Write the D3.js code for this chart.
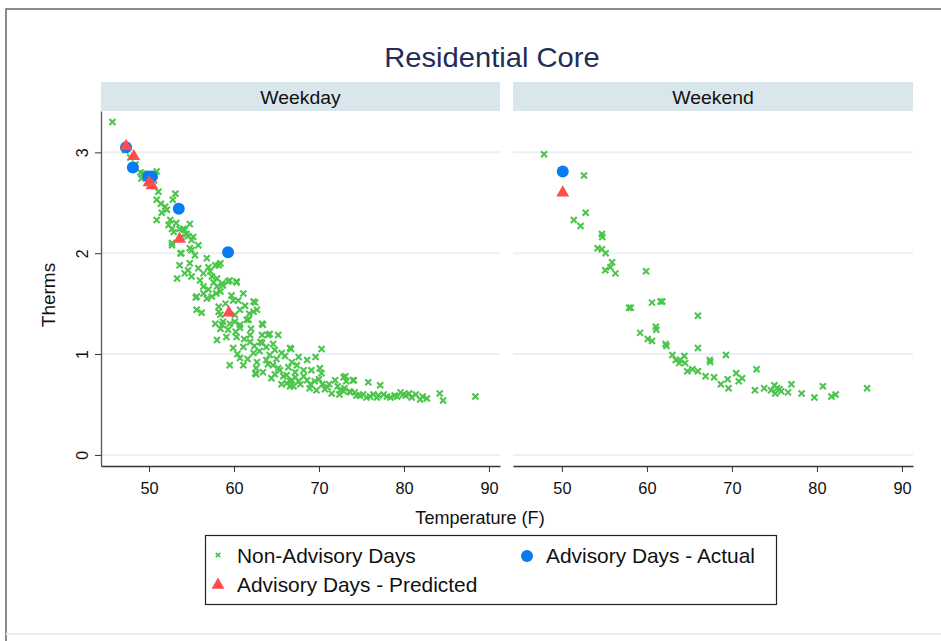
<!DOCTYPE html>
<html><head><meta charset="utf-8">
<script src="https://cdn.jsdelivr.net/npm/d3@7/dist/d3.min.js"></script>
<style>body{margin:0;background:#fff}svg{display:block}text{font-family:"Liberation Sans",Arial,sans-serif}</style>
</head><body><svg id="c" width="941" height="641"></svg>
<script>
// ---- data ----
const panels = ["Weekday", "Weekend"];
const xTicks = [50, 60, 70, 80, 90];
const yTicks = [0, 1, 2, 3];
const legendLabels = ["Non-Advisory Days", "Advisory Days - Actual", "Advisory Days - Predicted"];

// [temperature, therms]
const weekdayNonAdvisory = [
[45.7,3.30],[47.2,3.02],[47.8,2.95],[48.4,2.88],[49.0,2.80],[49.3,2.79],[49.1,2.74],[49.6,2.77],[50.3,2.78],[50.9,2.81],[50.6,2.72],[50.1,2.70],
[51.1,2.61],[53.1,2.59],[52.8,2.53],[50.9,2.53],[51.4,2.49],[51.9,2.46],[52.1,2.43],[50.9,2.33],[52.5,2.33],[52.3,2.28],[52.7,2.24],[53.6,2.24],
[54.8,2.29],[54.2,2.23],[52.9,2.21],[54.6,2.17],[55.0,2.13],[53.8,2.16],[55.8,2.08],[52.7,2.08],[54.8,2.05],[53.7,2.00],[55.4,1.98],[56.8,1.95],
[54.0,2.24],[54.4,2.19],[55.2,2.16],[52.7,2.10],[53.8,2.00],[55.0,2.03],[53.6,1.88],[54.8,1.90],[54.6,1.83],[55.8,1.85],[57.0,1.86],[57.8,1.88],
[58.4,1.90],[54.2,1.80],[55.0,1.77],[53.3,1.75],[56.0,1.73],[57.4,1.77],[58.0,1.75],[57.6,1.71],[58.6,1.70],[59.5,1.73],[60.3,1.72],[56.4,1.67],
[57.0,1.64],[58.0,1.67],[58.4,1.62],[55.6,1.57],[57.4,1.57],[61.1,1.60],[59.9,1.53],[60.5,1.53],[62.3,1.52],[61.3,1.48],[55.6,1.44],[56.2,1.41],
[58.2,1.47],[58.4,1.39],[60.7,1.44],[60.1,1.39],[61.7,1.34],[57.8,1.30],[58.6,1.29],[59.5,1.30],[60.7,1.29],[62.7,1.44],
[58.2,1.88],[59.3,1.72],[60.3,1.71],[58.7,1.68],[56.4,1.60],[55.5,1.56],[62.5,1.51],[58.2,1.42],[62.3,1.42],[58.7,1.32],[60.1,1.32],[61.5,1.34],
[63.3,1.30],[58.4,1.25],[59.3,1.24],[60.7,1.26],[58.0,1.14],[59.1,1.17],[60.3,1.17],[61.9,1.19],[63.3,1.19],[64.2,1.20],[65.2,1.19],[61.9,1.12],
[63.1,1.12],[59.9,1.06],[61.1,1.07],[63.8,1.07],[64.8,1.04],[66.6,1.06],[59.5,0.89],[60.7,0.96],[61.1,0.89],[62.7,0.92],[63.8,0.94],[64.6,0.89],
[62.5,0.81],[63.4,0.82],[64.4,0.76],[65.4,0.84],[66.2,0.79],[66.6,0.73],[67.2,0.82],[67.6,0.97],[66.8,0.92],
[63.4,1.29],[64.0,1.19],[63.3,1.11],[66.7,1.05],[70.3,1.05],[62.3,1.01],[64.2,0.99],[65.6,1.01],[68.6,0.94],[69.6,0.97],[62.6,0.86],
[64.0,0.90],[65.2,0.86],[66.4,0.87],[67.4,0.89],[68.2,0.84],[69.1,0.84],[70.1,0.86],[70.3,0.81],[62.6,0.80],[64.8,0.80],[65.8,0.78],[66.8,0.74],
[67.6,0.73],[68.6,0.74],[69.5,0.73],[66.6,0.68],[68.9,0.66],[69.7,0.64],[70.7,0.65],[71.9,0.74],[72.9,0.77],[73.2,0.73],[74.0,0.74],[71.5,0.61],
[72.5,0.64],[73.6,0.63],[74.4,0.59],
[73.1,0.78],[74.1,0.74],[75.8,0.72],[77.2,0.69],[72.9,0.63],[73.7,0.62],[74.8,0.59],[76.0,0.58],[77.0,0.59],[78.0,0.58],[78.9,0.59],[79.9,0.60],
[80.9,0.57],[81.4,0.60],[81.9,0.55],[82.7,0.56],[84.2,0.61],[84.6,0.54],[88.4,0.58],
[75.2,0.60],[75.6,0.57],[76.4,0.60],[76.8,0.57],[77.6,0.60],[78.4,0.57],[79.2,0.58],[79.6,0.62],[80.2,0.59],[74.2,0.62],[73.0,0.66],[72.2,0.68],
[71.2,0.70],[70.4,0.70],[69.0,0.70],[67.8,0.70],[67.0,0.68],[66.2,0.71],[65.6,0.70],[68.2,0.78],[67.2,0.77],[70.0,0.75],[71.0,0.67],[72.4,0.60],
[82.2,0.58],[80.6,0.61],
[51.5,2.40],[53.2,2.30],[56.4,1.80],[57.2,1.82],[57.9,1.60],[56.8,1.55],[59.0,1.50],[59.7,1.58],[61.8,1.40],[62.0,1.25],[60.2,1.22],[61.2,1.15],
[62.4,1.08],[63.0,1.03],[60.4,1.00],[61.6,0.95],[65.0,0.95],[64.6,1.10],[66.0,0.98]
];
const weekdayActual = [[47.3,3.05],[48.1,2.85],[49.9,2.76],[50.35,2.76],[53.5,2.44],[59.3,2.01]];
const weekdayPredicted = [[47.3,3.06],[48.2,2.96],[50.0,2.70],[50.35,2.67],[53.6,2.14],[59.4,1.41]];

const weekendNonAdvisory = [
[47.9,2.98],[52.6,2.77],[51.4,2.33],[52.2,2.27],[52.8,2.40],[54.7,2.19],[54.75,2.16],[54.2,2.05],[54.7,2.04],[55.15,2.00],[55.1,1.83],[55.7,1.86],
[55.9,1.91],[56.3,1.80],[59.9,1.82],[57.9,1.46],[58.1,1.46],[60.6,1.51],[61.6,1.52],[61.8,1.52],[66.0,1.38],[59.2,1.21],[60.1,1.15],[60.6,1.13],
[61.05,1.27],[61.1,1.24],[62.2,1.10],[62.3,1.08],[66.0,1.06],[63.0,0.99],[63.4,0.94],[63.8,0.91],[63.9,0.94],[64.4,0.98],[64.5,0.91],[64.75,0.83],
[65.35,0.85],[66.0,0.83],[66.9,0.78],[67.4,0.94],[67.45,0.92],[67.9,0.77],[68.7,0.70],[69.3,0.99],[69.5,0.75],[69.6,0.66],[70.5,0.81],[70.8,0.73],
[71.2,0.76],[72.9,0.85],[72.7,0.64],[73.8,0.66],[75.0,0.69],[75.1,0.61],[75.6,0.65],[75.8,0.63],[76.6,0.62],[77.0,0.70],[78.2,0.61],[79.7,0.57],
[80.7,0.68],[81.7,0.58],[82.2,0.60],[85.9,0.66],[74.6,0.64],[75.3,0.66]
];
const weekendActual = [[50.1,2.81]];
const weekendPredicted = [[50.1,2.60]];

// ---- style ----
const GREEN = "#4cc54c", BLUE = "#0a7cf2", RED = "#ff4d4d";

const svg = d3.select("#c");
svg.append("rect").attr("width", 941).attr("height", 641).attr("fill", "#fff");

function txt(x, y, s, size, opt = {}) {
  const sx = opt.sx || 1;
  return svg.append("text")
    .attr("transform", `translate(${x},${y})` + (opt.rot ? ` rotate(${opt.rot})` : "") + ` scale(${sx},1)`)
    .attr("font-size", size).attr("fill", opt.fill || "#111")
    .attr("text-anchor", opt.anchor || "middle").text(s);
}

// outer frame
svg.append("path").attr("d", "M6,641V9H941").attr("fill", "none").attr("stroke", "#666").attr("stroke-width", 1.5);
svg.append("line").attr("x1", 6).attr("x2", 941).attr("y1", 634).attr("y2", 634).attr("stroke", "#e3eeee").attr("stroke-width", 2);

// title
txt(492, 67, "Residential Core", 27.5, { fill: "#1f2d5a", sx: 1.06 });

const y = d3.scaleLinear().domain([-0.11, 3.41]).range([466, 111]);
const xs = [
  d3.scaleLinear().domain([44.35, 91.3]).range([101, 500]),
  d3.scaleLinear().domain([44.25, 91.3]).range([513, 913])
];
const series = [
  [weekdayNonAdvisory, weekdayActual, weekdayPredicted],
  [weekendNonAdvisory, weekendActual, weekendPredicted]
];

const cross = "M-3,-3L3,3M-3,3L3,-3";
const tri = d3.symbol().type(d3.symbolTriangle).size(72)();

panels.forEach((name, i) => {
  const x = xs[i];
  const [x0, x1] = x.range();
  // strip
  svg.append("rect").attr("x", x0).attr("y", 82).attr("width", x1 - x0).attr("height", 29).attr("fill", "#d9e6ec");
  txt((x0 + x1) / 2, 103.5, name, 18.5, { sx: 1.05 });
  // grid
  svg.append("g").selectAll("line").data(yTicks).join("line")
    .attr("x1", x0).attr("x2", x1).attr("y1", d => y(d)).attr("y2", d => y(d))
    .attr("stroke", "#eaf1f4").attr("stroke-width", 2);
  // x axis
  const gx = svg.append("g").attr("transform", "translate(0,466)")
    .call(d3.axisBottom(x).tickValues(xTicks).tickFormat(d3.format("d")).tickSize(6).tickSizeOuter(0));
  gx.select(".domain").attr("stroke", "#333").attr("stroke-width", 1.3);
  gx.selectAll(".tick line").attr("stroke", "#333");
  gx.selectAll(".tick text").attr("font-size", 16).attr("fill", "#111").attr("font-family", "Liberation Sans")
    .attr("y", 17).attr("dy", "0.71em").attr("transform", "scale(1.02,1)");

  const [na, act, pred] = series[i];
  const g = svg.append("g");
  g.selectAll("path.na").data(na).join("path").attr("class", "na")
    .attr("d", cross).attr("transform", d => `translate(${x(d[0])},${y(d[1])})`)
    .attr("stroke", GREEN).attr("stroke-width", 2.1).attr("fill", "none");
  g.selectAll("circle").data(act).join("circle")
    .attr("cx", d => x(d[0])).attr("cy", d => y(d[1])).attr("r", 6).attr("fill", BLUE);
  g.selectAll("path.pr").data(pred).join("path").attr("class", "pr")
    .attr("d", tri).attr("transform", d => `translate(${x(d[0])},${y(d[1])})`).attr("fill", RED);
});

// y axis (left panel only)
const gy = svg.append("g").attr("transform", "translate(101,0)")
  .call(d3.axisLeft(y).tickValues(yTicks).tickFormat(d3.format("d")).tickSize(6).tickSizeOuter(0));
gy.select(".domain").attr("stroke", "#555").attr("stroke-width", 1.3);
gy.selectAll(".tick line").attr("stroke", "#333");
gy.selectAll(".tick text").attr("x", null)
  .attr("font-size", 16).attr("fill", "#111").attr("font-family", "Liberation Sans")
  .attr("text-anchor", "middle")
  .attr("transform", "translate(-19,0) rotate(-90)").attr("y", 0).attr("dy", "0.35em");

// axis titles
txt(480, 524, "Temperature (F)", 19, { sx: 0.95 });
txt(55, 295, "Therms", 19, { rot: -90, sx: 1.0 });

// legend
const lg = svg.append("g");
lg.append("rect").attr("x", 205.5).attr("y", 535.5).attr("width", 571).attr("height", 69)
  .attr("fill", "#fff").attr("stroke", "#222").attr("stroke-width", 1.2);
const legendItems = [
  { x: 218, y: 556, tx: 237, label: legendLabels[0], kind: "na" },
  { x: 527, y: 556, tx: 546, label: legendLabels[1], kind: "act" },
  { x: 218, y: 585, tx: 237, label: legendLabels[2], kind: "pred" }
];
legendItems.forEach(it => {
  if (it.kind === "na") lg.append("path").attr("d", "M-2.2,-2.2L2.2,2.2M-2.2,2.2L2.2,-2.2")
    .attr("transform", `translate(${it.x},${it.y - 1})`).attr("stroke", GREEN).attr("stroke-width", 1.8);
  if (it.kind === "act") lg.append("circle").attr("cx", it.x).attr("cy", it.y).attr("r", 6).attr("fill", BLUE);
  if (it.kind === "pred") lg.append("path").attr("d", tri).attr("transform", `translate(${it.x},${it.y})`).attr("fill", RED);
  txt(it.tx, it.y + 7, it.label, 20.5, { anchor: "start", sx: 1.02 });
});
</script></body></html>
